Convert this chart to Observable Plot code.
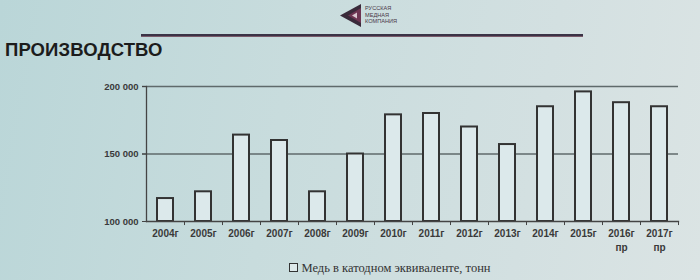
<!DOCTYPE html>
<html>
<head>
<meta charset="utf-8">
<script src="https://cdn.jsdelivr.net/npm/d3@7"></script>
<script src="https://cdn.jsdelivr.net/npm/@observablehq/plot@0.6"></script>
<style>
  html, body { margin: 0; padding: 0; }
  body {
    width: 700px; height: 280px; overflow: hidden; position: relative;
    background: linear-gradient(100deg, #bad6d8 0%, #c8dcdd 40%, #d3e0e1 75%, #dbe4e4 100%);
    font-family: "Liberation Sans", Arial, sans-serif;
  }
  #logo { position: absolute; left: 338px; top: 2px; }
  #hline { position: absolute; left: 141px; top: 34px; width: 442px; height: 2px;
           background: #3b3346; border-bottom: 1px solid #7a5a6a; }
  #title { position: absolute; left: 5px; top: 39px; font-size: 18.5px; font-weight: bold;
           color: #1c1c1c; letter-spacing: 0.1px; }
  #chart { position: absolute; left: 0; top: 70px; }
  #legend { position: absolute; left: 0; width: 700px; top: 261px; text-align: center;
            font-family: "Liberation Serif", "DejaVu Serif", serif; font-size: 12.5px; color: #333; }
  #legend .sw { display: inline-block; width: 7px; height: 7px; border: 1.3px solid #333;
                background: #dde9ea; margin-right: 3px; vertical-align: 0px; margin-left: 80px; }
</style>
</head>
<body>
<svg id="logo" width="70" height="27">
  <polygon points="2,13.5 23,2 23,25" fill="#3a2a3a"/>
  <polygon points="10,13.5 23,6 23,21" fill="#6e3552"/>
  <polygon points="14,13.5 19,10.5 19,16.5" fill="#d9c6cf"/>
  <g font-family="Liberation Sans, Arial, sans-serif" font-size="5.6" fill="#4a3848">
    <text x="27" y="8">РУССКАЯ</text>
    <text x="27" y="14.5">МЕДНАЯ</text>
    <text x="27" y="21">КОМПАНИЯ</text>
  </g>
</svg>
<div id="hline"></div>
<div id="title">ПРОИЗВОДСТВО</div>
<div id="chart"></div>
<div id="legend"><span class="sw"></span>Медь в катодном эквиваленте, тонн</div>
<script>
const years = ["2004г","2005г","2006г","2007г","2008г","2009г","2010г","2011г","2012г","2013г","2014г","2015г","2016г\nпр","2017г\nпр"];
const output = [117000,122000,164000,160000,122000,150000,179000,180000,170000,157000,185000,196000,188000,185000];
const yTicks = [100000,150000,200000];
const gridValues = [150000,200000];

const data = years.map((y, i) => ({year: y, value: output[i]}));

const W = 700, ML = 146, MR = 22;
const step = (W - ML - MR) / years.length;

const fmt = d => d3.format(",")(d).replace(/,/g, " ");

const plot = Plot.plot({
  width: W,
  height: 185,
  marginLeft: ML,
  marginRight: MR,
  marginTop: 16,
  marginBottom: 34,
  style: {background: "transparent", fontFamily: "Liberation Sans, Arial, sans-serif", overflow: "visible"},
  x: {domain: years, paddingInner: 0.58, paddingOuter: 0.29, label: null},
  y: {domain: [100000, 200000], label: null},
  marks: [
    Plot.ruleY(gridValues, {stroke: "#5f6a6b", strokeWidth: 1.3, insetLeft: -4}),
    Plot.barY(data, {x: "year", y1: 100000, y2: "value", fill: "#dce9eb", stroke: "#333", strokeWidth: 2}),
    Plot.frame({anchor: "left", stroke: "#444", strokeWidth: 1.3}),
    Plot.frame({anchor: "bottom", stroke: "#444", strokeWidth: 1.3}),
    Plot.ruleX(years, {x: d => d, dx: step / 2, y1: 100000, y2: 97000, stroke: "#444", strokeWidth: 1}),
    Plot.axisY({ticks: yTicks, tickFormat: fmt, tickSize: 4, tickPadding: 4, fontSize: 9.5, fontWeight: "bold", fill: "#3a3a3a", stroke: "#444", label: null}),
    Plot.axisX({tickSize: 0, tickPadding: 6, fontSize: 10, fontWeight: "bold", fill: "#3a3a3a", lineHeight: 1.4, label: null})
  ]
});
document.getElementById("chart").appendChild(plot);
</script>
</body>
</html>
